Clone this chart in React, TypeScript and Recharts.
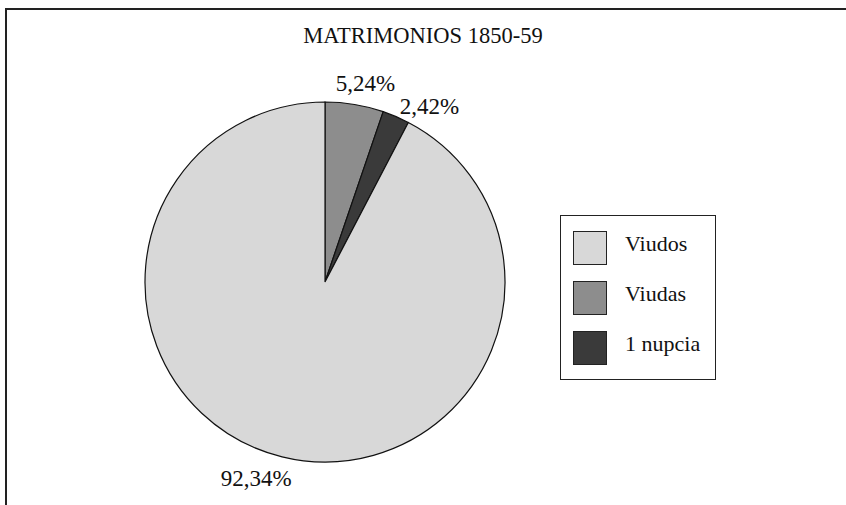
import { PieChart, Pie, Cell, Legend } from "recharts";

// slices in drawing order (clockwise from 12 o'clock)
const sliceNames = ["Viudas", "1 nupcia", "Viudos"];
const sliceValues = [5.24, 2.42, 92.34];
const sliceLabels = ["5,24%", "2,42%", "92,34%"];

// legend order as printed
const legendNames = ["Viudos", "Viudas", "1 nupcia"];

const COLORS: Record<string, string> = {
  Viudos: "#d8d8d8",
  Viudas: "#8d8d8d",
  "1 nupcia": "#3a3a3a",
};

// small hand nudges, the original labels were not placed exactly on the mid angle
const LABEL_NUDGE: Record<string, [number, number]> = {
  Viudas: [0, -4],
  "1 nupcia": [7, 6],
  Viudos: [-7, 4],
};

const FONT = '"Liberation Serif", "Times New Roman", serif';
const RAD = Math.PI / 180;

const data = sliceNames.map((name, i) => ({ name, value: sliceValues[i], label: sliceLabels[i] }));

// Excel-ish outside label: anchor point just past the rim, box pushed outward
const renderLabel = (props: any) => {
  const { cx, cy, midAngle, outerRadius, index } = props;
  const d = data[index];
  const w = d.label.length * 11.5;
  const h = 16;
  const cos = Math.cos(-midAngle * RAD);
  const sin = Math.sin(-midAngle * RAD);
  const px = cx + (outerRadius + 10) * cos;
  const py = cy + (outerRadius + 10) * sin;
  const [nx, ny] = LABEL_NUDGE[d.name] || [0, 0];
  const x = px + w * cos + nx;
  const y = py + (h / 2) * sin + ny;
  return (
    <text x={x} y={y + 8} textAnchor="middle" fontFamily={FONT} fontSize={23} fill="#111">
      {d.label}
    </text>
  );
};

const LegendBox = () => (
  <div
    style={{
      position: "relative",
      width: 154,
      height: 163,
      border: "1.5px solid #222",
      background: "#fff",
      boxSizing: "content-box",
      fontFamily: FONT,
      fontSize: 22,
      color: "#111",
    }}
  >
    {legendNames.map((n, i) => (
      <div
        key={n}
        style={{ position: "absolute", left: 12, top: 15 + i * 50, display: "flex", alignItems: "center" }}
      >
        <div style={{ width: 32, height: 32, background: COLORS[n], border: "1.5px solid #222" }} />
        <span style={{ marginLeft: 18, marginTop: -8, whiteSpace: "nowrap" }}>{n}</span>
      </div>
    ))}
  </div>
);

export default function App() {
  return (
    <div style={{ position: "relative", width: 846, height: 505, background: "#fff", overflow: "hidden" }}>
      <style>{"body{margin:0}"}</style>
      {/* frame: only top and left edges survive in the scan */}
      <div
        style={{
          position: "absolute",
          left: 5,
          top: 8,
          width: 860,
          height: 520,
          borderTop: "2px solid #222",
          borderLeft: "2px solid #222",
        }}
      />
      <div
        style={{
          position: "absolute",
          left: 300,
          top: 23,
          width: 246,
          textAlign: "center",
          fontFamily: FONT,
          fontSize: 22.5,
          color: "#111",
          whiteSpace: "nowrap",
        }}
      >
        MATRIMONIOS 1850-59
      </div>
      <div style={{ position: "absolute", left: 0, top: 0 }}>
        <PieChart width={846} height={505} margin={{ top: 0, right: 0, bottom: 0, left: 0 }}>
          <Pie
            data={data}
            dataKey="value"
            nameKey="name"
            cx={325}
            cy={282}
            outerRadius={180}
            startAngle={90}
            endAngle={-270}
            stroke="#111"
            strokeWidth={1.2}
            label={renderLabel}
            labelLine={false}
            isAnimationActive={false}
          >
            {data.map((d) => (
              <Cell key={d.name} fill={COLORS[d.name]} />
            ))}
          </Pie>
          <Legend
            content={() => <LegendBox />}
            wrapperStyle={{ position: "absolute", left: 560, top: 215, width: "auto" }}
          />
        </PieChart>
      </div>
    </div>
  );
}
